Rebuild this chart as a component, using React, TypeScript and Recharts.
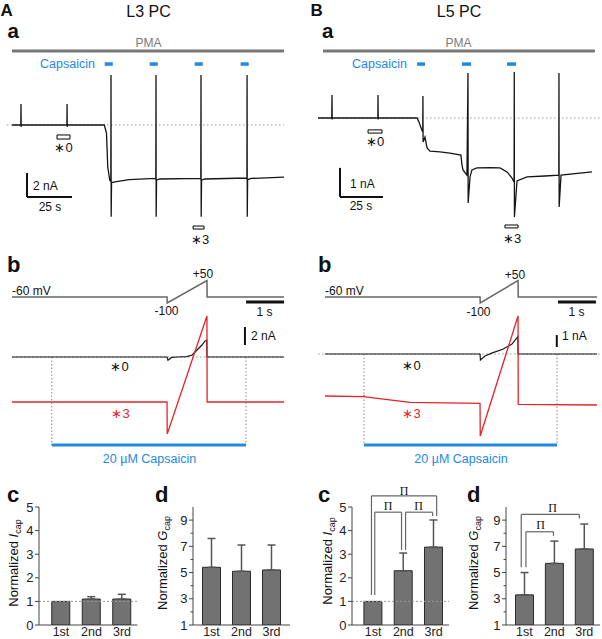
import React from 'react';
import {
  LineChart, ComposedChart, BarChart, Line, Bar, XAxis, YAxis,
  ReferenceLine, ReferenceArea, ErrorBar,
} from 'recharts';

// ---------- data ----------
// Panel A a (L3 PC): holding current, [time s, current nA]
const l3Sweep: [number, number][] = [
  [0, 0], [4.9, 0], [5.0, 1.75], [5.1, -0.15], [5.3, 0],
  [30.5, 0], [30.6, 1.75], [30.7, -0.15], [30.9, 0],
  [51.3, 0], [52.5, -0.7], [53.2, -3.5], [54.3, -4.6],
  [54.9, -4.7], [55.0, 4.17], [55.1, -7.64], [55.3, -4.8],
  [58, -4.72], [65, -4.55], [79.8, -4.45],
  [79.9, -4.55], [80.0, 4.17], [80.1, -7.64], [80.3, -4.6], [82, -4.5],
  [104.8, -4.45], [104.9, -4.55], [105.0, 4.17], [105.1, -7.64], [105.3, -4.6], [107, -4.5],
  [130.4, -4.42], [130.5, -4.52], [130.6, 4.17], [130.7, -7.64], [130.9, -4.55], [133, -4.45],
  [151.1, -4.35],
];
const l3Capsaicin: [number, number][] = [[51.5, 56], [76.5, 81], [101.5, 106], [127, 131.5]];
const l3Pma: [number, number] = [0, 151.1];

// Panel B a (L5 PC)
const l5Sweep: [number, number][] = [
  [0, 0], [8.0, 0], [8.14, 0.79], [8.25, -0.05], [8.4, 0],
  [34.8, 0], [34.9, 0.79], [35.0, -0.05], [35.2, 0],
  [57.6, 0], [58.7, -0.14], [59.9, -0.34], [60.9, -0.48],
  [61.0, 0.76], [61.1, -0.83], [62.2, -0.66], [63.4, -1.03], [65.1, -1.14],
  [70.9, -1.17], [76.7, -1.21], [83.1, -1.28],
  [83.7, -1.62], [84.3, -1.79], [86.6, -1.97],
  [87.2, 1.55], [87.3, -2.93], [88.4, -2.03], [89.5, -1.79], [92.4, -1.72],
  [100, -1.71], [105.8, -1.72], [109.9, -1.86], [112.8, -2.07], [114.0, -2.21],
  [114.1, 1.59], [114.2, -3.41], [115.7, -2.17], [121.5, -2.03], [132, -2.0], [140.0, -1.97],
  [140.1, 1.55], [140.2, -3.07], [141.3, -1.97], [159.3, -1.86],
];
const l5Capsaicin: [number, number][] = [[57.6, 62.2], [83.7, 89.0], [109.9, 115.1]];
const l5Pma: [number, number] = [2.9, 161];

// Panel b: voltage protocol [s, mV] and ramp currents [s, nA]
const l3Protocol: [number, number][] = [[0, -60], [4.08, -60], [4.085, -100], [5.13, 50], [5.135, -60], [7.16, -60]];
const l3Ramp0: [number, number][] = [
  [0, 0], [4.08, 0], [4.105, -0.35], [4.2, -0.05], [4.34, 0], [4.6, 0.05], [4.74, 0.22],
  [4.87, 0.78], [5.0, 1.33], [5.08, 1.78], [5.125, 1.85], [5.13, 0], [7.16, 0],
];
const l3Ramp3: [number, number][] = [[0, -5], [4.08, -5], [4.085, -8.56], [5.13, 4.56], [5.135, -5], [7.16, -5]];
const l3CapsWindow: [number, number] = [1.045, 6.158];

const l5Protocol: [number, number][] = [[0, -60], [4.08, -60], [4.085, -100], [5.08, 50], [5.085, -60], [7.16, -60]];
const l5Ramp0: [number, number][] = [
  [0, 0], [4.08, 0], [4.09, -0.5], [4.21, -0.17], [4.42, 0.11], [4.68, 0.39],
  [4.92, 0.83], [5.075, 1.44], [5.08, 0], [7.16, 0],
];
const l5Ramp3: [number, number][] = [
  [0, -3.5], [1.0, -3.56], [1.03, -3.48], [1.06, -3.58], [2.24, -4.03], [4.08, -4.11],
  [4.085, -6.83], [5.08, 3.17], [5.085, -4.19], [7.16, -4.25],
];
const l5CapsWindow: [number, number] = [1.026, 6.105];

// Panels c, d: normalized responses (mean, mean + error)
const trialIndex = [1, 2, 3];
const trialLabels = ['1st', '2nd', '3rd'];
const l3IcapMean = [1.0, 1.1, 1.1];
const l3IcapUpper: (number | null)[] = [null, 1.2, 1.3];
const l3GcapMean = [5.4, 5.1, 5.2];
const l3GcapUpper: (number | null)[] = [7.6, 7.1, 7.1];
const l5IcapMean = [1.0, 2.3, 3.3];
const l5IcapUpper: (number | null)[] = [null, 3.05, 4.45];
const l5GcapMean = [3.3, 5.7, 6.8];
const l5GcapUpper: (number | null)[] = [5.0, 7.4, 8.7];
const icapTicks = [0, 1, 2, 3, 4, 5];
const gcapTicks = [1, 2, 3, 4, 5, 6, 7, 8, 9];
const gcapLabeled = [1, 3, 5, 7, 9];

// ---------- styles ----------
const BLUE = '#2189e3';
const RED = '#e5242b';
const FONT = '"Liberation Sans", Arial, Helvetica, sans-serif';
const SERIF = '"Liberation Serif", "DejaVu Serif", serif';

const rows = (p: [number, number][]) => p.map(([t, v]) => ({ t, v }));

let segKey = 0;
function seg(x1: number, y1: number, x2: number, y2: number, stroke: string, w: number, extra: any = {}) {
  segKey += 1;
  return (
    <ReferenceLine
      key={'s' + segKey}
      segment={[{ x: x1, y: y1 }, { x: x2, y: y2 }]}
      stroke={stroke}
      strokeWidth={w}
      ifOverflow="visible"
      {...extra}
    />
  );
}

function box(x1: number, x2: number, y1: number, y2: number, extra: any = {}) {
  segKey += 1;
  return (
    <ReferenceArea key={'b' + segKey} x1={x1} x2={x2} y1={y1} y2={y2} fill="#fff" fillOpacity={1}
      stroke="#000" strokeWidth={1} ifOverflow="visible" {...extra} />
  );
}

function YTick(props: any) {
  const { x, y, payload, labeled } = props;
  const major = labeled.includes(payload.value);
  return (
    <g>
      <line x1={x - (major ? 4 : 2.5)} x2={x} y1={y} y2={y} stroke="#444" strokeWidth={1} />
      {major && (
        <text x={x - 5.5} y={y} dy="0.36em" textAnchor="end" fontSize={13} fill="#222" fontFamily={FONT}>
          {payload.value}
        </text>
      )}
    </g>
  );
}

function BarPanel(props: any) {
  const { left, width, xDomain, yDomain, yTicks, labeled, means, uppers, oneLine, children } = props;
  const data = trialIndex.map((x, k) => ({
    x,
    mean: means[k],
    err: uppers[k] == null ? null : [0, uppers[k] - means[k]],
  }));
  return (
    <div style={{ position: 'absolute', left, top: 495 }}>
      <BarChart width={width} height={144} data={data} margin={{ top: 12, right: 0, bottom: 0, left: 0 }}>
        <XAxis type="number" dataKey="x" domain={xDomain} allowDataOverflow ticks={trialIndex}
          tickFormatter={(v: number) => trialLabels[v - 1]} tickLine={false} tickSize={0} tickMargin={2}
          height={14} interval={0} axisLine={{ stroke: '#444' }}
          tick={{ fill: '#222', fontSize: 12.5, fontFamily: FONT }} />
        <YAxis type="number" domain={yDomain} allowDataOverflow ticks={yTicks} width={30} interval={0}
          axisLine={{ stroke: '#444' }} tickLine={false} tickSize={0} tickMargin={0}
          tick={(p: any) => <YTick {...p} labeled={labeled} />} />
        {oneLine && <ReferenceLine y={1} stroke="#999" strokeDasharray="2 2" />}
        <Bar dataKey="mean" fill="#727272" stroke="#2a2a2a" strokeWidth={1} barSize={18} isAnimationActive={false}>
          <ErrorBar dataKey="err" width={4} stroke="#555" strokeWidth={1.5} direction="y" isAnimationActive={false} />
        </Bar>
        {children}
      </BarChart>
    </div>
  );
}

function T(p: any) {
  const { x, y, s, size = 12, color = '#111', anchor = 'start', bold = false, family = FONT } = p;
  return (
    <text x={x} y={y} fontSize={size} fill={color} textAnchor={anchor}
      fontWeight={bold ? 'bold' : 'normal'} fontFamily={family}>{s}</text>
  );
}

function YLabel({ x, y, sym }: { x: number; y: number; sym: string }) {
  return (
    <text transform={`translate(${x},${y}) rotate(-90)`} textAnchor="middle" fontSize={13} fill="#111" fontFamily={FONT}>
      Normalized <tspan fontStyle="italic">{sym}</tspan>
      <tspan fontSize={9} dy={3}>cap</tspan>
    </text>
  );
}

const GRAY_BRK = '#666';

export default function App() {
  segKey = 0;
  return (
    <div style={{ position: 'absolute', left: 0, top: 0, width: 602, height: 639, background: '#fff', overflow: 'hidden', fontFamily: FONT }}>
      {/* ---------- A a ---------- */}
      <div style={{ position: 'absolute', left: 0, top: 40 }}>
        <LineChart width={300} height={192} margin={{ top: 0, right: 0, bottom: 0, left: 0 }}>
          <XAxis type="number" dataKey="t" domain={[-6.667, 160]} allowDataOverflow hide />
          <YAxis type="number" domain={[-8.917, 7.083]} allowDataOverflow hide />
          {seg(-2.8, 0, 151, 0, '#999', 1, { strokeDasharray: '1.5 2.5' })}
          {seg(l3Pma[0], 6.17, l3Pma[1], 6.17, '#777', 3)}
          {l3Capsaicin.map(([a, b]) => seg(a, 5.08, b, 5.08, BLUE, 3.5))}
          {seg(8.33, -4, 8.33, -6, '#111', 2)}
          {seg(8.33, -6, 33.33, -6, '#111', 2)}
          {box(25, 32.2, -0.83, -1.17)}
          {box(100.6, 106.7, -8.42, -8.67)}
          <Line data={rows(l3Sweep)} dataKey="v" stroke="#151515" strokeWidth={1.3} dot={false} isAnimationActive={false} />
        </LineChart>
      </div>

      {/* ---------- B a ---------- */}
      <div style={{ position: 'absolute', left: 300, top: 40 }}>
        <LineChart width={302} height={192} margin={{ top: 0, right: 0, bottom: 0, left: 0 }}>
          <XAxis type="number" dataKey="t" domain={[-10.465, 165.116]} allowDataOverflow hide />
          <YAxis type="number" domain={[-3.931, 2.69]} allowDataOverflow hide />
          {seg(0, 0, 163.9, 0, '#999', 1, { strokeDasharray: '1.5 2.5' })}
          {seg(l5Pma[0], 2.31, l5Pma[1], 2.31, '#777', 3)}
          {l5Capsaicin.map(([a, b]) => seg(a, 1.86, b, 1.86, BLUE, 3.5))}
          {seg(12.8, -1.72, 12.8, -2.72, '#111', 2)}
          {seg(12.8, -2.72, 37.8, -2.72, '#111', 2)}
          {box(29.1, 37.2, -0.41, -0.52)}
          {box(108.7, 116.3, -3.69, -3.79)}
          <Line data={rows(l5Sweep)} dataKey="v" stroke="#151515" strokeWidth={1.3} dot={false} isAnimationActive={false} />
        </LineChart>
      </div>

      {/* ---------- A b ---------- */}
      <div style={{ position: 'absolute', left: 0, top: 255 }}>
        <ComposedChart width={300} height={195} margin={{ top: 0, right: 0, bottom: 0, left: 0 }}>
          <XAxis type="number" dataKey="t" domain={[-0.3158, 7.5789]} allowDataOverflow hide />
          <YAxis yAxisId="v" type="number" domain={[-1080, 220]} allowDataOverflow hide />
          <YAxis yAxisId="i" type="number" domain={[-10.333, 11.333]} allowDataOverflow hide />
          {seg(0, 0, 7.16, 0, '#999', 1, { strokeDasharray: '1.5 2.5', yAxisId: 'i' })}
          {seg(l3CapsWindow[0], 0, l3CapsWindow[0], -9.78, '#888', 1, { strokeDasharray: '1.5 2', yAxisId: 'i' })}
          {seg(l3CapsWindow[1], 0, l3CapsWindow[1], -9.78, '#888', 1, { strokeDasharray: '1.5 2', yAxisId: 'i' })}
          {seg(l3CapsWindow[0], -9.78, l3CapsWindow[1], -9.78, BLUE, 3, { yAxisId: 'i' })}
          {seg(6.16, 6.11, 7.16, 6.11, '#111', 3, { yAxisId: 'i' })}
          {seg(6.13, 1.33, 6.13, 3.33, '#111', 2, { yAxisId: 'i' })}
          <Line yAxisId="v" data={rows(l3Protocol)} dataKey="v" stroke="#666" strokeWidth={1.5} dot={false} isAnimationActive={false} />
          <Line yAxisId="i" data={rows(l3Ramp0)} dataKey="v" stroke="#151515" strokeWidth={1.2} dot={false} isAnimationActive={false} />
          <Line yAxisId="i" data={rows(l3Ramp3)} dataKey="v" stroke={RED} strokeWidth={1.3} dot={false} isAnimationActive={false} />
        </ComposedChart>
      </div>

      {/* ---------- B b ---------- */}
      <div style={{ position: 'absolute', left: 300, top: 255 }}>
        <ComposedChart width={302} height={195} margin={{ top: 0, right: 0, bottom: 0, left: 0 }}>
          <XAxis type="number" dataKey="t" domain={[-0.6579, 7.2895]} allowDataOverflow hide />
          <YAxis yAxisId="v" type="number" domain={[-1080, 220]} allowDataOverflow hide />
          <YAxis yAxisId="i" type="number" domain={[-8, 8.25]} allowDataOverflow hide />
          {seg(-0.18, 0, 7.24, 0, '#999', 1, { strokeDasharray: '1.5 2.5', yAxisId: 'i' })}
          {seg(l5CapsWindow[0], 0, l5CapsWindow[0], -7.58, '#888', 1, { strokeDasharray: '1.5 2', yAxisId: 'i' })}
          {seg(l5CapsWindow[1], 0, l5CapsWindow[1], -7.58, '#888', 1, { strokeDasharray: '1.5 2', yAxisId: 'i' })}
          {seg(l5CapsWindow[0], -7.58, l5CapsWindow[1], -7.58, BLUE, 3, { yAxisId: 'i' })}
          {seg(6.13, 4.33, 7.13, 4.33, '#111', 3, { yAxisId: 'i' })}
          {seg(6.1, 0.58, 6.1, 1.58, '#111', 2, { yAxisId: 'i' })}
          <Line yAxisId="v" data={rows(l5Protocol)} dataKey="v" stroke="#666" strokeWidth={1.5} dot={false} isAnimationActive={false} />
          <Line yAxisId="i" data={rows(l5Ramp0)} dataKey="v" stroke="#151515" strokeWidth={1.2} dot={false} isAnimationActive={false} />
          <Line yAxisId="i" data={rows(l5Ramp3)} dataKey="v" stroke={RED} strokeWidth={1.3} dot={false} isAnimationActive={false} />
        </ComposedChart>
      </div>

      {/* ---------- c / d bars ---------- */}
      <BarPanel left={9} width={128.5} xDomain={[0.2787, 3.508]} yDomain={[0, 5]} yTicks={icapTicks}
        labeled={icapTicks} means={l3IcapMean} uppers={l3IcapUpper} oneLine />
      <BarPanel left={163} width={127} xDomain={[0.3833, 3.6167]} yDomain={[1, 10]} yTicks={gcapTicks}
        labeled={gcapLabeled} means={l3GcapMean} uppers={l3GcapUpper} />
      <BarPanel left={322} width={127} xDomain={[0.3046, 3.507]} yDomain={[0, 5]} yTicks={icapTicks}
        labeled={icapTicks} means={l5IcapMean} uppers={l5IcapUpper} oneLine>
        {seg(0.947, 1.27, 0.947, 5.47, GRAY_BRK, 1.2)}
        {seg(0.947, 5.47, 3.099, 5.47, GRAY_BRK, 1.2)}
        {seg(3.099, 5.47, 3.099, 4.62, GRAY_BRK, 1.2)}
        {seg(1.056, 1.27, 1.056, 4.78, GRAY_BRK, 1.2)}
        {seg(1.056, 4.78, 1.94, 4.78, GRAY_BRK, 1.2)}
        {seg(1.94, 4.78, 1.94, 3.18, GRAY_BRK, 1.2)}
        {seg(2.073, 3.18, 2.073, 4.78, GRAY_BRK, 1.2)}
        {seg(2.073, 4.78, 2.967, 4.78, GRAY_BRK, 1.2)}
        {seg(2.967, 4.78, 2.967, 4.62, GRAY_BRK, 1.2)}
      </BarPanel>
      <BarPanel left={476} width={124} xDomain={[0.3833, 3.527]} yDomain={[1, 10]} yTicks={gcapTicks}
        labeled={gcapLabeled} means={l5GcapMean} uppers={l5GcapUpper}>
        {seg(0.893, 5.4, 0.893, 9.43, GRAY_BRK, 1.2)}
        {seg(0.893, 9.43, 2.837, 9.43, GRAY_BRK, 1.2)}
        {seg(2.837, 9.43, 2.837, 9.13, GRAY_BRK, 1.2)}
        {seg(1.05, 5.4, 1.05, 8.11, GRAY_BRK, 1.2)}
        {seg(1.05, 8.11, 1.97, 8.11, GRAY_BRK, 1.2)}
        {seg(1.97, 8.11, 1.97, 7.8, GRAY_BRK, 1.2)}
      </BarPanel>

      {/* ---------- text overlay ---------- */}
      <svg width={602} height={639} style={{ position: 'absolute', left: 0, top: 0, pointerEvents: 'none' }}>
        <T x={0.5} y={15.5} s="A" size={17} bold />
        <T x={148.5} y={17} s="L3 PC" size={16} anchor="middle" />
        <T x={7.5} y={38} s="a" size={20.5} bold />
        <T x={148.5} y={47} s="PMA" size={12} anchor="middle" color="#7a7a7a" />
        <T x={40} y={68} s="Capsaicin" size={12.5} color={BLUE} />
        <T x={63.5} y={152} s="∗0" size={13} anchor="middle" />
        <T x={33} y={190} s="2 nA" size={12} />
        <T x={50} y={211} s="25 s" size={12} anchor="middle" />
        <T x={200} y={244} s="∗3" size={13} anchor="middle" />
        <T x={7} y={272} s="b" size={22} bold />
        <T x={12} y={295} s="-60 mV" size={12} />
        <T x={203} y={278} s="+50" size={12} anchor="middle" />
        <T x={166.5} y={315} s="-100" size={12} anchor="middle" />
        <T x={264.5} y={316} s="1 s" size={12} anchor="middle" />
        <T x={251} y={340} s="2 nA" size={12} />
        <T x={119.5} y={371} s="∗0" size={13} anchor="middle" />
        <T x={120.5} y={418} s="∗3" size={13} anchor="middle" color={RED} />
        <T x={149.5} y={463} s="20 µM Capsaicin" size={12.5} anchor="middle" color={BLUE} />
        <T x={7} y={502} s="c" size={22} bold />
        <T x={155} y={502} s="d" size={22} bold />
        <YLabel x={17.5} y={563} sym="I" />
        <YLabel x={167} y={563} sym="G" />

        <T x={310.5} y={15.5} s="B" size={17} bold />
        <T x={459} y={17} s="L5 PC" size={16} anchor="middle" />
        <T x={322} y={38} s="a" size={20.5} bold />
        <T x={458.5} y={47} s="PMA" size={12} anchor="middle" color="#7a7a7a" />
        <T x={352} y={68} s="Capsaicin" size={12.5} color={BLUE} />
        <T x={375} y={146} s="∗0" size={13} anchor="middle" />
        <T x={350} y={188} s="1 nA" size={12} />
        <T x={361} y={210} s="25 s" size={12} anchor="middle" />
        <T x={512} y={243} s="∗3" size={13} anchor="middle" />
        <T x={318} y={272} s="b" size={22} bold />
        <T x={325} y={295} s="-60 mV" size={12} />
        <T x={515} y={279} s="+50" size={12} anchor="middle" />
        <T x={478.5} y={316} s="-100" size={12} anchor="middle" />
        <T x={576.5} y={316} s="1 s" size={12} anchor="middle" />
        <T x={562} y={340} s="1 nA" size={12} />
        <T x={411.5} y={370} s="∗0" size={13} anchor="middle" />
        <T x={411.5} y={418} s="∗3" size={13} anchor="middle" color={RED} />
        <T x={461} y={463} s="20 µM Capsaicin" size={12.5} anchor="middle" color={BLUE} />
        <T x={318} y={502} s="c" size={22} bold />
        <T x={467} y={502} s="d" size={22} bold />
        <YLabel x={332} y={561} sym="I" />
        <YLabel x={478} y={563} sym="G" />

        <T x={404} y={495} s="Π" size={12} anchor="middle" family={SERIF} />
        <T x={388} y={510} s="Π" size={12} anchor="middle" family={SERIF} />
        <T x={418.5} y={510} s="Π" size={12} anchor="middle" family={SERIF} />
        <T x={552.5} y={512} s="Π" size={12} anchor="middle" family={SERIF} />
        <T x={540.5} y={529} s="Π" size={12} anchor="middle" family={SERIF} />
      </svg>
    </div>
  );
}
